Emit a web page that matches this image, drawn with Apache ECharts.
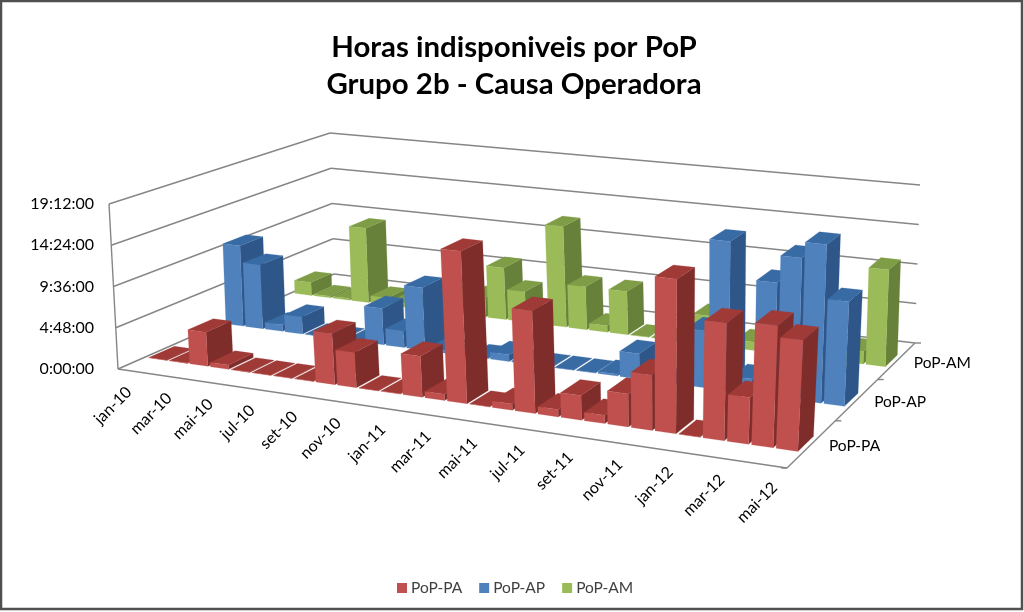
<!DOCTYPE html>
<html><head><meta charset="utf-8">
<style>html,body{margin:0;padding:0;background:#fff}#c{width:1024px;height:612px}</style>
<script src="https://cdn.jsdelivr.net/npm/echarts@6/dist/echarts.min.js"></script>
</head><body><div id="c"></div>
<script>
const months=['jan-10','fev-10','mar-10','abr-10','mai-10','jun-10','jul-10','ago-10','set-10','out-10','nov-10','dez-10','jan-11','fev-11','mar-11','abr-11','mai-11','jun-11','jul-11','ago-11','set-11','out-11','nov-11','dez-11','jan-12','fev-12','mar-12','abr-12','mai-12'];
const rows=['PoP-PA','PoP-AP','PoP-AM'];
const popPA=[0.03,0.03,4,0.5,0.03,0.03,0.03,0.03,5.8,4,0.03,0.03,4.6,0.7,17,0.03,0.7,11.3,0.8,2.7,0.9,3.6,6,16.7,0.03,12.6,5,13,11.8];
const popAP=[10,7.9,0.8,2.1,0.03,0.03,0.03,4.4,2,7.5,0.3,0.1,0.1,0.8,0.1,0.03,0.03,0.03,0.2,2.9,0.1,0.2,6.5,17,1.7,12.9,16,17.8,11.7];
const popAM=[1.7,0.2,0.2,9.6,0.9,0.5,0.2,2.3,0.3,2.5,6.5,3.8,0.3,12.5,5.3,0.8,5.3,0.03,0.03,0.1,3.5,0.1,1,0.1,0.1,0.1,0.1,1.5,11.4];
const yTicks=[0,4.8,9.6,14.4,19.2];
const yTickLabels=['0:00:00','4:48:00','9:36:00','14:24:00','19:12:00'];
const frontColors=['#C0504D','#4F81BD','#9BBB59'];
const topColors=['#A03A37','#386AA3','#7F9C46'];
const sideColors=['#7F2D2B','#2F5688','#67813A'];

// layout of the projected box (screen corners of the floor and of the ceiling)
const FLOOR=[[118,369],[787,468],[915,343],[334,274]];
const CEIL=[[109,204],[796,284],[920,185],[330,133]];
function homog(q){const [p0,p1,p2,p3]=q;
 const dx1=p1[0]-p2[0],dx2=p3[0]-p2[0],sx=p0[0]-p1[0]+p2[0]-p3[0];
 const dy1=p1[1]-p2[1],dy2=p3[1]-p2[1],sy=p0[1]-p1[1]+p2[1]-p3[1];
 const den=dx1*dy2-dx2*dy1,g=(sx*dy2-dx2*sy)/den,h=(dx1*sy-sx*dy1)/den;
 const a=p1[0]-p0[0]+g*p1[0],b=p3[0]-p0[0]+h*p3[0],d=p1[1]-p0[1]+g*p1[1],e=p3[1]-p0[1]+h*p3[1];
 return (u,v)=>{const w=g*u+h*v+1;return [(a*u+b*v+p0[0])/w,(d*u+e*v+p0[1])/w];};}
const hF=homog(FLOOR),hC=homog(CEIL);
function P(u,v,t){const f=hF(u,v),c=hC(u,v);return [f[0]+(c[0]-f[0])*t,f[1]+(c[1]-f[1])*t];}
const BAR=0.88, DV0=0.32, DV1=0.64;
const warp=u=>0.005+0.99*u+0.045*u*(1-u);
function barItem(row){return function(params,api){
 const g=params.coordSys, cat=api.value(0), val=api.value(1);
 const p=api.coord([cat,val]), b=api.coord([cat,0]), w=api.size([1,0])[0]*BAR;
 const u0=warp((p[0]-w/2-g.x)/g.width),u1=warp((p[0]+w/2-g.x)/g.width),t=(b[1]-p[1])/g.height;
 const v0=(row+DV0)/3,v1=(row+DV1)/3;
 const poly=(pts,c)=>({type:'polygon',shape:{points:pts},style:{fill:c,stroke:c,lineWidth:0.2}});
 return {type:'group',children:[
  poly([P(u1,v0,0),P(u1,v1,0),P(u1,v1,t),P(u1,v0,t)],sideColors[row]),
  poly([P(u0,v0,t),P(u1,v0,t),P(u1,v1,t),P(u0,v1,t)],topColors[row]),
  poly([P(u0,v0,0),P(u1,v0,0),P(u1,v0,t),P(u0,v0,t)],frontColors[row])
 ]};};}
const LINE={stroke:'#868686',lineWidth:1.4};
function seg(a,b){return {type:'line',shape:{x1:a[0],y1:a[1],x2:b[0],y2:b[1]},style:LINE};}
const data=a=>a.map((v,i)=>[i,v]);
const labelIdx=months.map((m,i)=>i).filter(i=>i%2===0);
const chart=echarts.init(document.getElementById('c'),null,{renderer:'canvas'});
chart.setOption({
 animation:false,backgroundColor:'#fff',
 title:{text:'Horas indisponiveis por PoP\nGrupo 2b - Causa Operadora',left:509,top:24,textAlign:'center',
  textStyle:{fontFamily:'Lato',fontWeight:'bold',fontSize:29.4,lineHeight:37,color:'#000'}},
 legend:{data:rows,left:392,top:575,itemWidth:10,itemHeight:10,itemGap:17,icon:'rect',
  textStyle:{fontFamily:'Lato',fontSize:15.5,color:'#404040',padding:[0,0,0,-1]}},
 grid:{left:100,top:204,width:700,height:165},
 xAxis:{type:'category',data:months,show:false},
 yAxis:{type:'value',min:0,max:19.2,interval:4.8,axisLine:{show:false},axisTick:{show:false},splitLine:{show:false},
  axisLabel:{margin:6,fontFamily:'Lato',fontSize:16,color:'#000',formatter:v=>yTickLabels[yTicks.findIndex(t=>Math.abs(t-v)<1e-6)]}},
 graphic:[{type:'rect',silent:true,z:100,shape:{x:1,y:1,width:1021,height:608},style:{fill:'none',stroke:'#505050',lineWidth:2.5}}],
 series:[
 {type:'custom',name:'frame',silent:true,z:1,coordinateSystem:'cartesian2d',data:yTicks.map((t,i)=>[i,t]),encode:{x:0,y:1},
  renderItem(params,api){
   const g=params.coordSys,b=api.coord([0,0]),p=api.coord([0,api.value(1)]),t=(b[1]-p[1])/g.height,ch=[seg(P(0,0,t),P(0,1,t)),seg(P(0,1,t),P(1,1,t))];
   if(api.value(0)===0){ch.push(seg(P(0,0,0),P(0,0,1)),seg(P(0,0,0),P(1,0,0)),seg(P(1,0,0),P(1,1,0)));
    [1/3,2/3,1].forEach(v=>{const q=P(1,v,0);ch.push(seg(q,[q[0]+6,q[1]]));});
    const q=P(1,0,0);ch.push(seg(q,[q[0]-6,q[1]]));}
   return {type:'group',children:ch};}},
 {type:'custom',name:rows[2],z:2,coordinateSystem:'cartesian2d',itemStyle:{color:frontColors[2]},data:data(popAM),encode:{x:0,y:1},renderItem:barItem(2)},
 {type:'custom',name:rows[1],z:3,coordinateSystem:'cartesian2d',itemStyle:{color:frontColors[1]},data:data(popAP),encode:{x:0,y:1},renderItem:barItem(1)},
 {type:'custom',name:rows[0],z:4,coordinateSystem:'cartesian2d',itemStyle:{color:frontColors[0]},data:data(popPA),encode:{x:0,y:1},renderItem:barItem(0)},
 {type:'custom',name:'catLabels',silent:true,z:5,coordinateSystem:'cartesian2d',data:labelIdx.map(i=>[i,0]),encode:{x:0,y:1},
  renderItem(params,api){
   const g=params.coordSys,c=api.coord([api.value(0),0]),u=(c[0]-g.x)/g.width,q=P(u,0,0);
   return {type:'text',x:q[0]+1,y:q[1]+19,rotation:Math.PI/4,style:{text:months[api.value(0)],align:'right',verticalAlign:'middle',font:'16px Lato',fill:'#000'}};}},
 {type:'custom',name:'rowLabels',silent:true,z:5,coordinateSystem:'cartesian2d',data:rows.map((r,i)=>[i,0]),encode:{x:0,y:1},
  renderItem(params,api){
   const i=api.value(0),q=P(1,(i+0.5)/3,0);
   return {type:'text',x:q[0]+17,y:q[1]+2,style:{text:rows[i],align:'left',verticalAlign:'middle',font:'15.5px Lato',fill:'#000'}};}}
 ]
});
</script></body></html>
